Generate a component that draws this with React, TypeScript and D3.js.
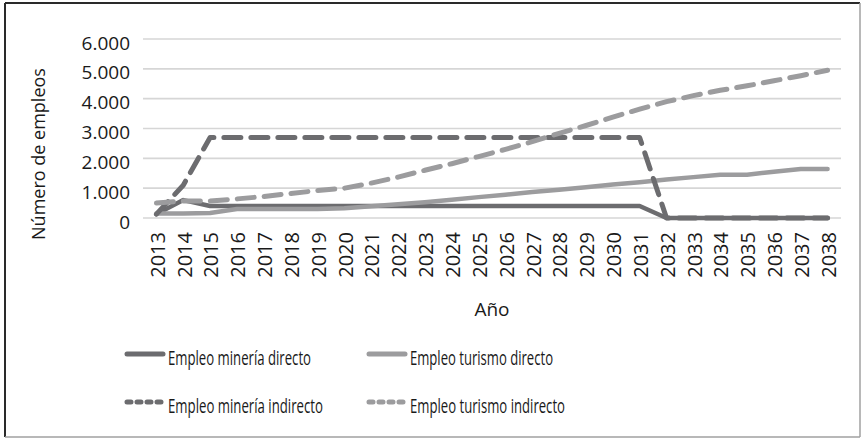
import React from "react";
import * as d3 from "d3";

const years = ["2013","2014","2015","2016","2017","2018","2019","2020","2021","2022","2023","2024","2025","2026","2027","2028","2029","2030","2031","2032","2033","2034","2035","2036","2037","2038"];

const mineriaDirecto = [130, 600, 400, 400, 400, 400, 400, 400, 400, 400, 400, 400, 400, 400, 400, 400, 400, 400, 400, 0, 0, 0, 0, 0, 0, 0];
const turismoDirecto = [150, 150, 170, 300, 300, 300, 300, 330, 390, 460, 530, 610, 700, 780, 870, 950, 1030, 1120, 1200, 1290, 1370, 1450, 1450, 1550, 1640, 1640];
const mineriaIndirecto = [130, 1100, 2700, 2700, 2700, 2700, 2700, 2700, 2700, 2700, 2700, 2700, 2700, 2700, 2700, 2700, 2700, 2700, 2700, 0, 0, 0, 0, 0, 0, 0];
const turismoIndirecto = [500, 570, 570, 640, 720, 820, 920, 1000, 1170, 1370, 1600, 1820, 2060, 2300, 2560, 2840, 3100, 3380, 3650, 3900, 4100, 4280, 4430, 4600, 4770, 4950];

const yTicks = [0, 1000, 2000, 3000, 4000, 5000, 6000];
const yTickLabels = ["0", "1.000", "2.000", "3.000", "4.000", "5.000", "6.000"];

const seriesNames = ["Empleo minería directo", "Empleo turismo directo", "Empleo minería indirecto", "Empleo turismo indirecto"];
const seriesValues = [mineriaDirecto, turismoDirecto, mineriaIndirecto, turismoIndirecto];

const DARK = "#6c6c6f";
const LIGHT = "#9c9c9e";
const styles = [
  { color: DARK, dash: null },
  { color: LIGHT, dash: null },
  { color: DARK, dash: "17 10" },
  { color: LIGHT, dash: "17 10" },
];
const legendTextLen = [143, 143, 155, 155];

const FONT = "'Open Sans', 'Noto Sans', sans-serif";

export default function App() {
  const W = 866, H = 440;
  const x = d3.scaleBand<string>().domain(years).range([143, 841]);
  const y = d3.scaleLinear().domain([0, 6000]).range([218, 39]);
  const cx = (yr: string) => (x(yr) as number) + x.bandwidth() / 2;

  const line = d3
    .line<number>()
    .x((_, i) => cx(years[i]))
    .y((v) => y(v));

  return (
    <svg width={W} height={H} style={{ position: "absolute", left: 0, top: 0, background: "#fff" }} fontFamily={FONT}>
      <rect x={0} y={0} width={W} height={H} fill="#fff" />
      {/* frame */}
      <line x1={5} y1={3} x2={860} y2={3} stroke="#2a2a2a" strokeWidth={2} />
      <line x1={5} y1={3} x2={5} y2={437} stroke="#2a2a2a" strokeWidth={2} />
      <line x1={860} y1={3} x2={860} y2={437} stroke="#a0a0a0" strokeWidth={1.5} />
      <line x1={5} y1={437} x2={860} y2={437} stroke="#a0a0a0" strokeWidth={1.5} />

      {/* gridlines */}
      {yTicks.map((t) => (
        <line key={t} x1={143} x2={841} y1={y(t)} y2={y(t)} stroke="#d6d6d6" strokeWidth={1.6} />
      ))}
      {/* y tick labels */}
      {yTicks.map((t, i) => (
        <text key={t} x={130} y={y(t) + 3.5} textAnchor="end" dominantBaseline="central" fontSize={19} fill="#1a1a1a">
          {yTickLabels[i]}
        </text>
      ))}
      {/* x tick labels */}
      {years.map((yr) => (
        <text
          key={yr}
          transform={`translate(${cx(yr) + 0.8},232) rotate(-90)`}
          textAnchor="end"
          dominantBaseline="central"
          fontSize={20}
          fill="#1a1a1a"
        >
          {yr}
        </text>
      ))}
      {/* axis titles */}
      <text x={492} y={316} textAnchor="middle" fontSize={19} fill="#1a1a1a">Año</text>
      <text transform="translate(38,154) rotate(-90)" textAnchor="middle" dominantBaseline="central" fontSize={18} fill="#1a1a1a">
        Número de empleos
      </text>

      {/* series */}
      {seriesValues.map((vals, i) => (
        <path
          key={seriesNames[i]}
          d={line(vals) || ""}
          fill="none"
          stroke={styles[i].color}
          strokeWidth={styles[i].dash ? 5 : 4.5}
          strokeDasharray={styles[i].dash || undefined}
          strokeLinecap="round"
          strokeLinejoin="round"
        />
      ))}

      {/* legend */}
      {seriesNames.map((name, i) => {
        const col = i % 2;
        const row = Math.floor(i / 2);
        const lx = col === 0 ? 125 : 367;
        const ly = row === 0 ? 354 : 402;
        return (
          <g key={name}>
            <line
              x1={lx + 2}
              x2={lx + 38}
              y1={ly}
              y2={ly}
              stroke={styles[i].color}
              strokeWidth={5}
              strokeLinecap="round"
              strokeDasharray={styles[i].dash ? "4 6" : undefined}
            />
            <text
              x={lx + 43}
              y={ly + 11}
              fontSize={20}
              fill="#1a1a1a"
              textLength={legendTextLen[i]}
              lengthAdjust="spacingAndGlyphs"
            >
              {name}
            </text>
          </g>
        );
      })}
    </svg>
  );
}
